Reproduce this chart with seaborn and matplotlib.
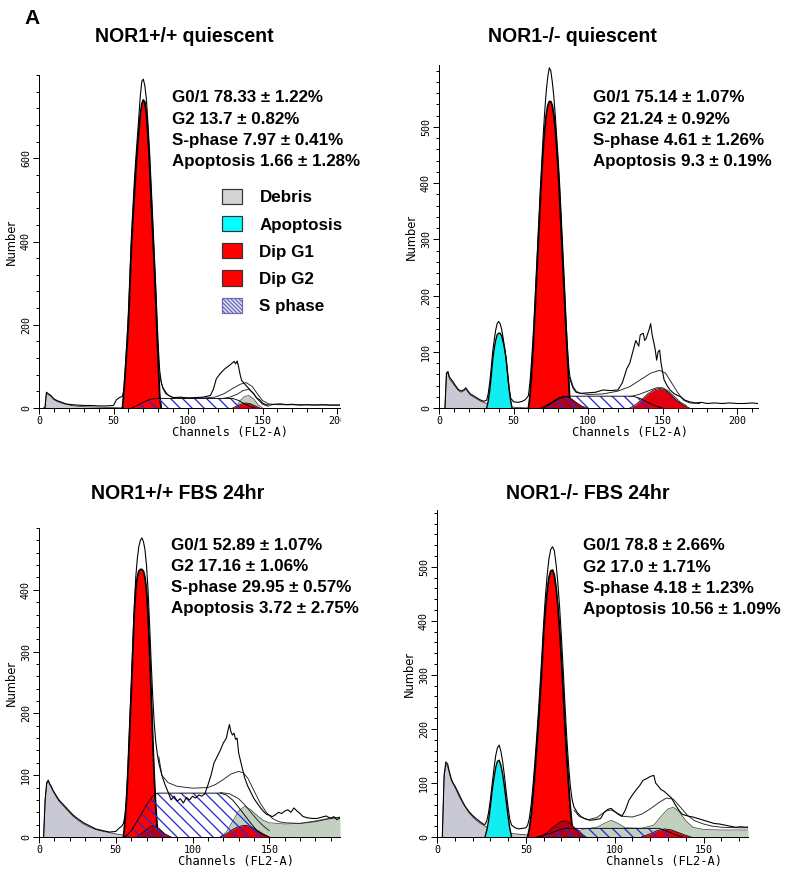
import numpy as np
import matplotlib
matplotlib.use("Agg")
import matplotlib.pyplot as plt
import seaborn as sns
from matplotlib.patches import Patch
from matplotlib.ticker import MultipleLocator
from matplotlib.transforms import Bbox, TransformedBbox

# ---------------- text ----------------
panel_letter = "A"
titles = ["NOR1+/+ quiescent", "NOR1-/- quiescent", "NOR1+/+ FBS 24hr", "NOR1-/- FBS 24hr"]
stats_wq = ["G0/1 78.33 ± 1.22%", "G2 13.7 ± 0.82%", "S-phase 7.97 ± 0.41%", "Apoptosis 1.66 ± 1.28%"]
stats_kq = ["G0/1 75.14 ± 1.07%", "G2 21.24 ± 0.92%", "S-phase 4.61 ± 1.26%", "Apoptosis 9.3 ± 0.19%"]
stats_wf = ["G0/1 52.89 ± 1.07%", "G2 17.16 ± 1.06%", "S-phase 29.95 ± 0.57%", "Apoptosis 3.72 ± 2.75%"]
stats_kf = ["G0/1 78.8 ± 2.66%", "G2 17.0 ± 1.71%", "S-phase 4.18 ± 1.23%", "Apoptosis 10.56 ± 1.09%"]
legend_labels = ["Debris", "Apoptosis", "Dip G1", "Dip G2", "S phase"]
x_label = "Channels (FL2-A)"
y_label = "Number"
x_ticks = [0, 50, 100, 150, 200]
y_ticks_wq = [0, 200, 400, 600]
y_ticks_kq = [0, 100, 200, 300, 400, 500]
y_ticks_wf = [0, 100, 200, 300, 400]
y_ticks_kf = [0, 100, 200, 300, 400, 500]

# ---------------- data: (channel, count) ----------------
# NOR1+/+ quiescent
wq_total = [(3,0),(4,0),(5,38),(6,35),(8,30),(10,22),(12,18),(15,14),(18,10),(22,8),(26,7),(30,6),(35,6),(40,5),
            (45,5),(50,6),(52,20),(54,25),(56,28),(57,45),(58,100),(59,160),(60,230),(61,320),(62,410),(63,480),
            (64,545),(65,600),(66,650),(67,700),(68,750),(69,785),(70,790),(71,775),(72,745),(73,690),(74,630),
            (75,555),(76,480),(77,400),(78,320),(79,235),(80,150),(81,90),(82,62),(83,50),(85,38),(87,30),(90,25),
            (95,26),(100,24),(105,25),(110,26),(115,30),(117,45),(119,70),(121,80),(123,88),(125,95),(127,100),
            (129,106),(131,112),(132,106),(133,113),(134,98),(135,80),(136,66),(138,58),(140,50),(142,42),(144,35),
            (146,24),(148,20),(150,12),(152,8),(155,7),(158,9),(162,10),(166,8),(170,9),(175,7),(180,8),(185,7),
            (190,8),(195,7),(202,7)]
wq_model = [(81,80),(83,48),(85,34),(90,25),(100,24),(110,24),(118,26),(124,34),(130,47),(135,57),(139,61),
            (143,52),(147,32),(150,18),(154,10),(160,8),(202,7)]
wq_inner = [(122,22),(128,26),(133,33),(137,42),(141,45),(144,34),(147,20),(150,9),(154,4)]
wq_debris = [(4,0),(5,36),(6,33),(8,28),(10,20),(12,16),(15,12),(18,9),(22,6),(26,4),(30,3),(40,2),(50,1),(60,0)]
wq_aggr = [(132,0),(135,18),(138,28),(141,30),(144,22),(147,8),(150,0)]
wq_g1 = [(56,0),(57,40),(58,90),(59,145),(60,200),(61,290),(62,385),(63,450),(64,510),(65,570),(66,620),(67,665),
         (68,705),(69,730),(70,740),(71,735),(72,710),(73,660),(74,600),(75,520),(76,445),(77,370),(78,290),
         (79,200),(80,110),(81,30),(82,0)]
wq_g2 = [(130,0),(133,5),(136,10),(139,12),(142,10),(145,5),(148,0)]
wq_sph = [(62,0),(66,6),(70,14),(74,20),(78,23),(130,23),(134,18),(138,10),(142,3),(145,0)]

# NOR1-/- quiescent
kq_total = [(4,0),(5,62),(6,65),(7,55),(9,48),(11,40),(13,33),(15,30),(17,33),(18,36),(19,32),(21,25),(23,22),
            (26,17),(28,14),(30,12),(31,13),(32,14),(33,25),(34,45),(35,70),(36,100),(37,120),(38,138),(39,150),
            (40,154),(41,150),(42,140),(43,125),(44,108),(45,88),(46,60),(47,35),(48,18),(50,11),(53,10),(56,12),
            (58,15),(60,22),(61,45),(62,80),(63,120),(64,170),(65,225),(66,280),(67,335),(68,390),(69,440),(70,490),
            (71,530),(72,565),(73,590),(74,605),(75,600),(76,580),(77,555),(78,520),(79,480),(80,440),(81,395),
            (82,340),(83,285),(84,230),(85,170),(86,115),(87,75),(88,50),(90,35),(92,28),(95,26),(100,27),(105,28),
            (110,32),(115,31),(120,32),(123,45),(126,70),(128,80),(130,100),(132,120),(134,110),(135,130),(137,133),
            (138,120),(139,124),(141,140),(142,150),(143,130),(145,105),(146,85),(147,100),(148,103),(149,79),
            (151,50),(153,40),(155,32),(158,25),(162,20),(165,14),(168,11),(172,9),(176,10),(180,8),(185,9),(190,8),
            (195,9),(200,8),(205,8),(210,9),(214,8)]
kq_model = [(88,55),(90,38),(92,30),(95,26),(100,24),(110,25),(120,30),(128,38),(135,50),(142,62),(148,67),
            (152,62),(156,45),(160,28),(164,14),(168,9),(175,8)]
kq_inner = [(128,20),(134,24),(140,30),(146,36),(150,36),(154,30),(158,20),(162,10),(166,4)]
kq_debris = [(4,0),(5,60),(6,62),(7,52),(9,45),(11,38),(13,31),(15,28),(17,31),(18,34),(19,30),(21,23),(23,20),
             (26,15),(28,12),(30,10),(32,8),(36,5),(45,2),(60,0)]
kq_apop = [(32,0),(33,12),(34,30),(35,55),(36,85),(37,105),(38,120),(39,130),(40,133),(41,133),(42,128),(43,118),
           (44,105),(45,88),(46,62),(47,35),(48,14),(49,0)]
kq_g1 = [(60,0),(61,20),(62,55),(63,100),(64,150),(65,205),(66,260),(67,315),(68,370),(69,420),(70,462),(71,497),
         (72,522),(73,538),(74,545),(75,545),(76,538),(77,522),(78,497),(79,462),(80,420),(81,370),(82,315),
         (83,260),(84,205),(85,150),(86,100),(87,50),(88,0)]
kq_apg2 = [(68,0),(72,5),(76,11),(80,18),(84,21),(88,18),(92,10),(96,3),(100,0)]
kq_g2 = [(128,0),(132,6),(136,15),(140,25),(144,32),(148,35),(152,32),(156,22),(160,12),(164,5),(168,0)]
kq_sph = [(70,0),(74,6),(78,13),(82,18),(86,21),(130,21),(135,17),(140,10),(145,4),(150,0)]

# NOR1+/+ FBS 24hr
wf_total = [(3,0),(4,60),(5,88),(6,92),(7,86),(8,82),(9,76),(11,68),(13,60),(16,52),(19,44),(22,36),(25,30),
            (29,23),(33,18),(37,13),(42,10),(46,8),(50,9),(52,14),(54,18),(55,22),(56,35),(57,65),(58,115),(59,180),
            (60,240),(61,305),(62,370),(63,420),(64,450),(65,470),(66,480),(67,484),(68,478),(69,465),(70,440),
            (71,400),(72,345),(73,285),(74,230),(75,185),(76,155),(77,135),(78,120),(80,100),(82,85),(84,73),(86,60),
            (88,66),(90,58),(92,62),(94,55),(96,64),(98,60),(100,66),(102,63),(104,68),(106,66),(108,70),(110,84),
            (112,100),(114,120),(116,130),(118,140),(120,152),(122,160),(123,172),(124,182),(125,170),(126,165),
            (127,168),(128,158),(129,160),(130,136),(132,115),(134,95),(136,82),(138,72),(140,62),(142,55),(144,48),
            (146,42),(148,37),(150,35),(152,33),(154,36),(156,40),(158,38),(160,42),(162,44),(164,40),(166,47),
            (168,42),(170,38),(172,33),(175,31),(178,30),(181,30),(184,32),(187,34),(190,30),(192,33),(194,28),
            (196,31)]
wf_model = [(78,130),(80,100),(84,88),(90,82),(100,79),(110,80),(115,85),(120,93),(125,102),(130,106),
            (133,104),(136,95),(140,75),(144,55),(148,40),(152,30),(156,25),(160,23),(170,22),(180,25),(190,30),
            (196,32)]
wf_inner = [(118,72),(124,70),(130,62),(134,52),(138,40),(142,28),(146,18),(150,10)]
wf_debris = [(3,0),(4,60),(5,85),(6,90),(7,85),(9,75),(11,66),(13,58),(16,50),(19,42),(22,34),(25,28),(29,21),
             (33,16),(37,12),(42,9),(46,7),(50,5),(55,3),(60,0)]
wf_aggr = [(118,0),(122,8),(126,25),(130,42),(134,50),(138,44),(142,35),(146,27),(150,23),(160,21),(170,22),
           (180,26),(190,31),(196,32)]
wf_g1 = [(55,0),(56,25),(57,60),(58,110),(59,170),(60,230),(61,295),(62,360),(63,400),(64,420),(65,430),(66,433),
         (67,433),(68,430),(69,420),(70,400),(71,360),(72,300),(73,235),(74,165),(75,100),(76,50),(77,15),(78,0)]
wf_apg2 = [(64,0),(68,8),(72,16),(75,18),(78,14),(82,5),(86,0)]
wf_g2 = [(118,0),(122,5),(126,12),(130,17),(134,19),(138,17),(142,11),(146,5),(150,0)]
wf_sph = [(56,0),(60,10),(65,30),(70,52),(74,66),(77,71),(118,71),(122,68),(126,60),(130,48),(134,35),(138,22),
          (142,10),(146,3),(150,0)]

# NOR1-/- FBS 24hr
kf_total = [(3,0),(4,115),(5,139),(6,135),(7,120),(8,108),(9,100),(10,95),(12,82),(14,68),(16,56),(18,47),(20,40),
            (22,34),(24,29),(26,24),(27,23),(28,30),(29,45),(30,68),(31,97),(32,125),(33,150),(34,165),(35,170),
            (36,158),(37,138),(38,112),(39,82),(40,55),(41,32),(42,22),(44,17),(46,15),(48,16),(50,17),(51,22),
            (52,35),(53,60),(54,95),(55,135),(56,180),(57,228),(58,280),(59,335),(60,395),(61,445),(62,485),(63,515),
            (64,532),(65,537),(66,530),(67,505),(68,470),(69,425),(70,370),(71,310),(72,245),(73,185),(74,135),
            (75,95),(76,70),(77,56),(79,45),(81,38),(83,34),(86,31),(89,32),(92,34),(94,45),(96,51),(98,53),
            (100,47),(102,42),(104,38),(106,50),(108,68),(110,78),(112,87),(114,95),(116,105),(118,108),(120,112),
            (122,114),(123,100),(124,96),(126,88),(128,84),(130,78),(132,72),(134,60),(136,50),(138,42),(140,40),
            (142,38),(144,37),(146,35),(148,33),(150,31),(153,28),(156,25),(159,24),(162,22),(165,20),(168,18),
            (171,19),(174,18),(175,19)]
kf_model = [(77,50),(80,38),(85,32),(90,36),(95,48),(98,50),(101,45),(105,38),(110,37),(115,42),(120,52),
            (125,64),(129,72),(133,70),(137,55),(141,40),(145,30),(150,24),(155,20),(160,18),(170,17),(175,17)]
kf_debris = [(3,0),(4,110),(5,135),(6,130),(7,118),(8,105),(10,93),(12,78),(15,60),(18,45),(21,34),(24,26),
             (27,20),(30,15),(35,10),(40,7),(50,4),(60,0)]
kf_apop = [(27,0),(28,12),(29,30),(30,55),(31,85),(32,108),(33,128),(34,140),(35,142),(36,132),(37,115),(38,92),
           (39,65),(40,38),(41,15),(42,0)]
kf_aggr = [(75,0),(78,10),(82,14),(90,18),(94,25),(98,31),(102,25),(106,17),(115,16),(122,22),(126,38),(130,52),
           (133,55),(136,48),(140,30),(144,18),(150,14),(160,13),(170,13),(175,13)]
kf_g1 = [(51,0),(52,15),(53,40),(54,75),(55,115),(56,160),(57,205),(58,255),(59,310),(60,375),(61,420),(62,455),
         (63,480),(64,492),(65,494),(66,485),(67,462),(68,428),(69,385),(70,330),(71,270),(72,205),(73,150),
         (74,100),(75,55),(76,20),(77,0)]
kf_apg2 = [(58,0),(62,8),(66,20),(70,29),(73,30),(76,22),(80,8),(84,0)]
kf_g2 = [(115,0),(120,6),(124,12),(128,15),(132,13),(136,8),(140,3),(143,0)]
kf_sph = [(56,0),(62,5),(68,12),(72,16),(125,16),(130,10),(135,3),(138,0)]

# ---------------- style ----------------
sns.set_theme(style="ticks")
plt.rcParams["font.family"] = ["Liberation Sans", "DejaVu Sans"]
plt.rcParams["text.color"] = "black"
plt.rcParams["axes.labelcolor"] = "black"
plt.rcParams["xtick.color"] = "black"
plt.rcParams["ytick.color"] = "black"
plt.rcParams["axes.edgecolor"] = "black"
plt.rcParams["hatch.linewidth"] = 1.3
plt.rcParams["hatch.color"] = "#2a2ad8"
plt.rcParams["axes.linewidth"] = 1.0

C_DEB = "#c9c9d6"
C_AGG = "#c2d0c0"
C_APO = "#10eef2"
C_RED = "#ff0000"
C_G2 = "#e00010"
C_APG2 = "#b00018"
C_HATCH = "#2a2ad8"

W, H, DPI = 800, 878, 72
fig = plt.figure(figsize=(W / DPI, H / DPI), dpi=DPI)
fig.patch.set_facecolor("white")


def px_axes(l, t, r, b):
    return fig.add_axes([l / W, 1 - b / H, (r - l) / W, (b - t) / H])


def fx(x):
    return x / W


def fy(y):
    return 1 - y / H


def xy(p):
    a = np.array(p, dtype=float)
    return a[:, 0], a[:, 1]


def fill(ax, comp, color, z, edge="black", lw=0.8):
    x, y = xy(comp)
    ax.fill_between(x, 0, y, color=color, lw=0, zorder=z)
    ax.plot(x, y, color=edge, lw=lw, zorder=z + 0.1)


def panel(ax, total, model, inner, debris, apop, aggr, g1, apg2, g2, sph, xmax, ymax, yticks, yminor):
    fill(ax, debris, C_DEB, 1, edge="#333333")
    if aggr is not None:
        fill(ax, aggr, C_AGG, 1.5, edge="#555555")
    if apop is not None:
        fill(ax, apop, C_APO, 2, lw=1.4)
    fill(ax, g1, C_RED, 2.2, lw=1.8)
    if apg2 is not None:
        fill(ax, apg2, C_APG2, 2.4)
    fill(ax, g2, C_G2, 2.6)
    sx, sy = xy(sph)
    ax.fill_between(sx, 0, sy, facecolor="none", edgecolor=C_HATCH, hatch="\\\\", lw=0, zorder=3)
    ax.plot(sx, sy, color="black", lw=0.9, zorder=3.1)
    mx, my = xy(model)
    sns.lineplot(x=mx, y=my, ax=ax, color="#222222", lw=0.9, estimator=None, sort=False, zorder=4)
    if inner is not None:
        ix, iy = xy(inner)
        sns.lineplot(x=ix, y=iy, ax=ax, color="#222222", lw=0.9, estimator=None, sort=False, zorder=4)
    tx, ty = xy(total)
    sns.lineplot(x=tx, y=ty, ax=ax, color="black", lw=1.1, estimator=None, sort=False, zorder=5)

    ax.set_xlim(0, xmax)
    ax.set_ylim(0, ymax)
    ax.set_xticks([t for t in x_ticks if t <= xmax])
    ax.set_yticks(yticks)
    ax.xaxis.set_minor_locator(MultipleLocator(10))
    ax.yaxis.set_minor_locator(MultipleLocator(yminor))
    ax.tick_params(which="major", length=6, width=1, direction="out", labelsize=10, pad=2, colors="black")
    ax.tick_params(which="minor", length=3.5, width=1, direction="out", colors="black")
    for lbl in ax.get_xticklabels() + ax.get_yticklabels():
        lbl.set_fontfamily("DejaVu Sans Mono")
    for lbl in ax.get_yticklabels():
        lbl.set_rotation(90)
        lbl.set_va("center")
    sns.despine(ax=ax)
    for s in ("left", "bottom"):
        ax.spines[s].set_color("black")
    ax.set_xlabel(x_label, fontfamily="DejaVu Sans Mono", fontsize=12, color="black")
    ax.set_ylabel(y_label, fontfamily="DejaVu Sans", fontsize=11.5, color="black")
    bb = ax.get_position()
    wpx, hpx = bb.width * W, bb.height * H
    ax.xaxis.set_label_coords(128 / xmax, -18 / hpx)
    ax.yaxis.set_label_coords(-21 / wpx, 0.5)
    ax.set_facecolor("white")


ax1 = px_axes(39, 75, 340, 408)
panel(ax1, wq_total, wq_model, wq_inner, wq_debris, None, wq_aggr, wq_g1, None, wq_g2, wq_sph,
      202, 800, y_ticks_wq, 40)
ax2 = px_axes(439, 65, 758, 408)
panel(ax2, kq_total, kq_model, kq_inner, kq_debris, kq_apop, None, kq_g1, kq_apg2, kq_g2, kq_sph,
      214, 610, y_ticks_kq, 20)
ax3 = px_axes(39, 528, 340, 837)
panel(ax3, wf_total, wf_model, wf_inner, wf_debris, None, wf_aggr, wf_g1, wf_apg2, wf_g2, wf_sph,
      196, 500, y_ticks_wf, 20)
ax4 = px_axes(437, 510, 748, 837)
panel(ax4, kf_total, kf_model, None, kf_debris, kf_apop, kf_aggr, kf_g1, kf_apg2, kf_g2, kf_sph,
      175, 605, y_ticks_kf, 20)

# titles, letter, stats
fig.text(fx(24), fy(18), panel_letter, fontsize=21, fontweight="bold", va="center", ha="left", color="black")
title_pos = [(184, 37), (572, 37), (178, 493), (588, 493)]
for t, (x, y) in zip(titles, title_pos):
    fig.text(fx(x), fy(y), t, fontsize=19.5, fontweight="bold", ha="center", va="center", color="black")

stats_pos = [(172, 98), (593, 98), (171, 545), (583, 546)]
for lines, (x, y) in zip([stats_wq, stats_kq, stats_wf, stats_kf], stats_pos):
    for i, s in enumerate(lines):
        fig.text(fx(x), fy(y + i * 21.2), s, fontsize=17, fontweight="bold", ha="left", va="center",
                 color="black")

# legend (first panel)
handles = [
    Patch(facecolor="#d4d4d4", edgecolor="#333333", lw=1.2),
    Patch(facecolor="#00ffff", edgecolor="#333333", lw=1.2),
    Patch(facecolor="#ff0000", edgecolor="#333333", lw=1.2),
    Patch(facecolor="#ff0000", edgecolor="#333333", lw=1.2),
    Patch(facecolor="#e4e4f6", edgecolor="#6a6ab8", lw=1.2, hatch="\\\\\\\\\\\\"),
]
leg = ax1.legend(handles, legend_labels, loc="upper left", bbox_to_anchor=(fx(222), fy(189)),
                 bbox_transform=fig.transFigure, frameon=False, handlelength=1.2, handleheight=1.0,
                 handletextpad=1.0, labelspacing=0.63, borderpad=0, borderaxespad=0,
                 prop={"family": "Liberation Sans", "weight": "bold", "size": 17})
for t in leg.get_texts():
    t.set_color("black")

# emulate the cropped right edge of the left-hand panels
fig.canvas.draw()
clip = TransformedBbox(Bbox.from_extents(0, 0, 341 / W, 1), fig.transFigure)
for ax in (ax1, ax3):
    for tick in ax.xaxis.get_major_ticks():
        tick.label1.set_clip_box(clip)
        tick.label1.set_clip_on(True)

fig.savefig("out.png", dpi=DPI, facecolor="white")
